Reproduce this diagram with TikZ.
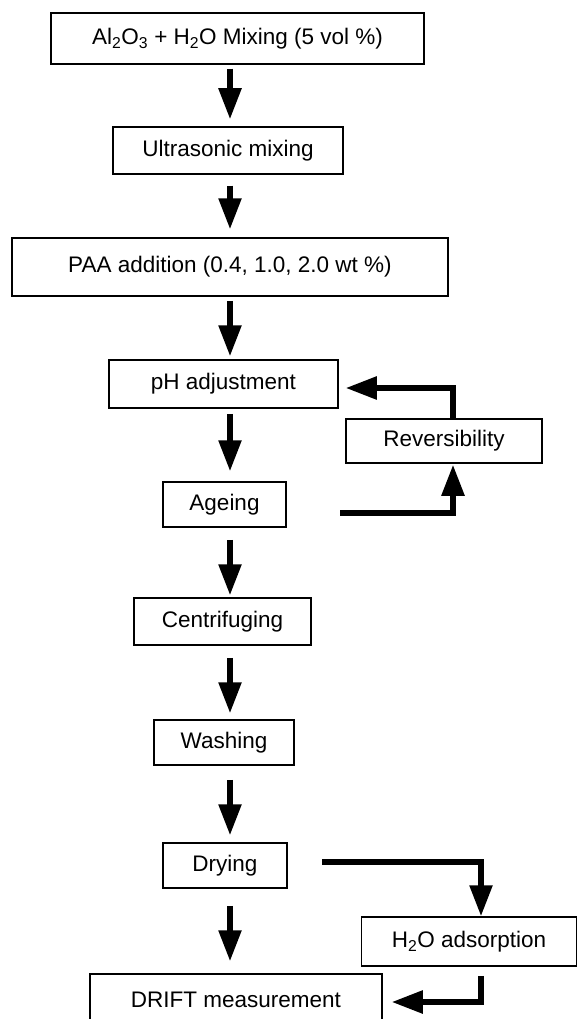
\documentclass[tikz,border=0pt]{standalone}
\usepackage{fontspec}
\setmainfont{Liberation Sans}
\usetikzlibrary{arrows.meta}
\tikzset{%
  tipA/.tip={Triangle[width=22pt,length=31pt]},
  stepbox/.style={draw=black, line width=1.5pt, inner sep=0pt, font=\fontsize{22.5}{27}\selectfont},
  flow/.style={line width=5.5pt, -tipA}
}

\begin{document}
\begin{tikzpicture}[x=1pt,y=-1pt]
\useasboundingbox (0,0) rectangle (579,1019);
\node[stepbox, minimum width=373pt, minimum height=51pt] (mix) at (237.5,38.5){Al\textsubscript{2}O\textsubscript{3} + H\textsubscript{2}O Mixing (5 vol \%)};
\node[stepbox, minimum width=230pt, minimum height=47pt] (ultra) at (228,150.5){Ultrasonic mixing};
\node[stepbox, minimum width=436pt, minimum height=58pt] (paa) at (230,267){PAA addition (0.4, 1.0, 2.0 wt \%)};
\node[stepbox, minimum width=229pt, minimum height=48pt] (ph) at (223.5,384){pH adjustment};
\node[stepbox, minimum width=196pt, minimum height=44pt] (rev) at (444,441){Reversibility};
\node[stepbox, minimum width=123pt, minimum height=45pt] (age) at (224.5,504.5){Ageing};
\node[stepbox, minimum width=177pt, minimum height=47pt] (centri) at (222.5,621.5){Centrifuging};
\node[stepbox, minimum width=140pt, minimum height=45pt] (wash) at (224,742.5){Washing};
\node[stepbox, minimum width=124pt, minimum height=45pt] (dry) at (225,865.5){Drying};
\node[stepbox, minimum width=215pt, minimum height=49pt] (ads) at (469,941.5){H\textsubscript{2}O adsorption};
\node[stepbox, minimum width=292pt, minimum height=52pt] (drift) at (236,1000){DRIFT measurement};
\coordinate (spine) at (230,0);
\draw[flow, shorten <=4pt, shorten >=7pt] (mix.south -| spine) -- (ultra.north -| spine);
\draw[flow, shorten <=11pt, shorten >=8pt] (ultra.south -| spine) -- (paa.north -| spine);
\draw[flow, shorten <=4pt, shorten >=3pt] (paa.south -| spine) -- (ph.north -| spine);
\draw[flow, shorten <=5pt, shorten >=10pt] (ph.south -| spine) -- (age.north -| spine);
\draw[flow, shorten <=12pt, shorten >=2pt] (age.south -| spine) -- (centri.north -| spine);
\draw[flow, shorten <=12pt, shorten >=6pt] (centri.south -| spine) -- (wash.north -| spine);
\draw[flow, shorten <=14pt, shorten >=7pt] (wash.south -| spine) -- (dry.north -| spine);
\draw[flow, shorten <=17pt, shorten >=12pt] (dry.south -| spine) -- (drift.north -| spine);
\coordinate (revup) at (453,0);
\coordinate (ageout) at (340,513);
\draw[flow, shorten >=7pt] (rev.north -| revup) |- ([yshift=-4pt]ph.east);
\draw[flow, shorten >=1pt] (ageout) -| (rev.south -| revup);
\coordinate (dryout) at (322,862);
\coordinate (adsx) at (481,0);
\draw[flow] (dryout) -| (ads.north -| adsx);
\draw[flow, shorten <=9pt, shorten >=9pt] (ads.south -| adsx) |- ([yshift=-2pt]drift.east);
\end{tikzpicture}
\end{document}
